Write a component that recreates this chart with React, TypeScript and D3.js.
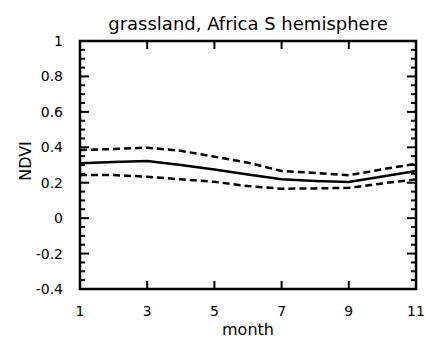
import React from "react";
import * as d3 from "d3";

// Monthly NDVI for grassland, southern-hemisphere Africa
const months = [1, 2, 3, 4, 5, 6, 7, 8, 9, 10, 11];
const meanNdvi = [0.31, 0.317, 0.323, 0.3, 0.275, 0.247, 0.219, 0.21, 0.204, 0.235, 0.266];
const upperNdvi = [0.385, 0.39, 0.398, 0.38, 0.347, 0.313, 0.266, 0.255, 0.242, 0.276, 0.307];
const lowerNdvi = [0.243, 0.243, 0.234, 0.219, 0.205, 0.181, 0.166, 0.168, 0.171, 0.196, 0.219];
const xTicks = [1, 3, 5, 7, 9, 11];
const yTicks = [-0.4, -0.2, 0, 0.2, 0.4, 0.6, 0.8, 1];

const W = 425;
const H = 339;
const left = 80;
const right = 416;
const top = 41;
const bottom = 289;
const font = "'DejaVu Sans', sans-serif";

export default function App() {
  const x = d3.scaleLinear().domain([1, 11]).range([left, right]);
  const y = d3.scaleLinear().domain([-0.4, 1]).range([bottom, top]);
  const line = (vals: number[]) =>
    d3.line<number>().x((_, i) => x(months[i])).y((v) => y(v))(vals) ?? "";
  const minorY = d3.range(-0.4, 1.0001, 0.05).map((v) => +v.toFixed(2));
  const fmt = (v: number) => (v === 0 ? "0" : String(+v.toFixed(1)));

  return (
    <svg width={W} height={H} style={{ position: "absolute", left: 0, top: 0 }}>
      <rect width={W} height={H} fill="#fff" />
      <text x={(left + right) / 2} y={30} textAnchor="middle" fontFamily={font} fontSize={18}>
        grassland, Africa S hemisphere
      </text>
      <defs>
        <clipPath id="plot">
          <rect x={left} y={top} width={right - left} height={bottom - top} />
        </clipPath>
      </defs>
      <g clipPath="url(#plot)">
        <path d={line(upperNdvi)} fill="none" stroke="#000" strokeWidth={2.5} strokeDasharray="7,4" />
        <path d={line(lowerNdvi)} fill="none" stroke="#000" strokeWidth={2.5} strokeDasharray="7,4" />
        <path d={line(meanNdvi)} fill="none" stroke="#000" strokeWidth={2.5} />
      </g>
      {minorY.map((v) => {
        const major = yTicks.some((t) => Math.abs(t - v) < 1e-6);
        const len = major ? 9 : 5;
        return (
          <g key={v}>
            <line x1={left} x2={left + len} y1={y(v)} y2={y(v)} stroke="#000" strokeWidth={2} />
            <line x1={right} x2={right - len} y1={y(v)} y2={y(v)} stroke="#000" strokeWidth={2} />
          </g>
        );
      })}
      {xTicks.map((t) => (
        <g key={t}>
          <line x1={x(t)} x2={x(t)} y1={bottom} y2={bottom - 8} stroke="#000" strokeWidth={2} />
          <line x1={x(t)} x2={x(t)} y1={top} y2={top + 8} stroke="#000" strokeWidth={2} />
          <text x={x(t)} y={316} textAnchor="middle" fontFamily={font} fontSize={14}>
            {t}
          </text>
        </g>
      ))}
      {yTicks.map((t) => (
        <text key={t} x={63} y={y(t) + 5} textAnchor="end" fontFamily={font} fontSize={14}>
          {fmt(t)}
        </text>
      ))}
      <rect x={left} y={top} width={right - left} height={bottom - top} fill="none" stroke="#000" strokeWidth={2.5} />
      <text x={(left + right) / 2} y={335} textAnchor="middle" fontFamily={font} fontSize={16}>
        month
      </text>
      <text
        transform="translate(31,161) rotate(-90)"
        textAnchor="middle"
        fontFamily={font}
        fontSize={16}
      >
        NDVI
      </text>
    </svg>
  );
}
